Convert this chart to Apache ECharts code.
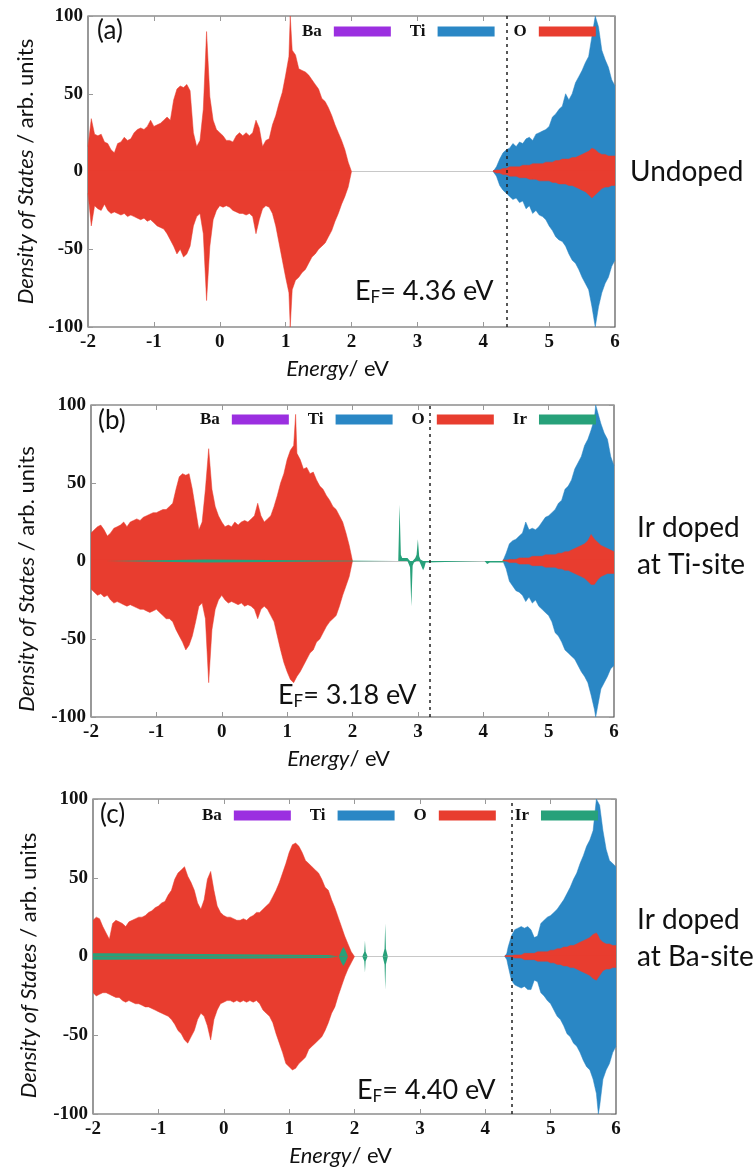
<!DOCTYPE html>
<html><head><meta charset="utf-8">
<script src="https://cdn.jsdelivr.net/npm/echarts@6/dist/echarts.min.js"></script>
<style>html,body{margin:0;padding:0;background:#fff}#c{width:755px;height:1170px}</style>
</head><body><div id="c"></div>
<script>
// ---------------- DATA ----------------
const xTicks = [-2, -1, 0, 1, 2, 3, 4, 5, 6];
const yTicks = [-100, -50, 0, 50, 100];
const panelLabels = ['(a)', '(b)', '(c)'];
const caseLabels = [['Undoped'], ['Ir doped', 'at Ti-site'], ['Ir doped', 'at Ba-site']];
const fermiEnergies = [4.36, 3.18, 4.40];
const fermiTexts = ['4.36 eV', '3.18 eV', '4.40 eV'];
const legendA = ['Ba', 'Ti', 'O'];
const legendBC = ['Ba', 'Ti', 'O', 'Ir'];

// Panel (a) undoped: valence band (O dominated)
const aValE = [-2.00,-1.95,-1.90,-1.85,-1.80,-1.75,-1.70,-1.65,-1.60,-1.55,-1.50,-1.45,-1.40,-1.35,-1.30,-1.25,-1.20,-1.15,-1.10,-1.05,-1.00,-0.95,-0.90,-0.85,-0.80,-0.75,-0.70,-0.65,-0.60,-0.55,-0.50,-0.45,-0.40,-0.35,-0.30,-0.25,-0.20,-0.15,-0.10,-0.05,0.00,0.05,0.10,0.15,0.20,0.25,0.30,0.35,0.40,0.45,0.50,0.55,0.60,0.65,0.70,0.75,0.80,0.85,0.90,0.95,1.00,1.05,1.07,1.10,1.15,1.20,1.25,1.30,1.35,1.40,1.45,1.50,1.55,1.60,1.65,1.70,1.75,1.80,1.85,1.90,1.95,2.00];
const aOValUp = [16,34,24,23,24,19,18,14,12,18,19,22,20,21,25,27,28,27,29,33,29,30,31,33,35,33,46,53,55,54,56,52,25,16,20,40,90,48,33,27,25,23,20,20,19,23,25,23,25,23,25,33,28,16,20,21,30,36,44,51,62,74,100,78,75,66,65,64,62,59,56,53,47,45,41,36,30,25,20,14,6,0];
const aOValDn = [-14,-35,-22,-24,-25,-21,-25,-27,-26,-27,-28,-27,-29,-28,-29,-30,-31,-30,-32,-31,-33,-35,-36,-37,-40,-44,-48,-53,-50,-55,-53,-48,-35,-29,-27,-40,-83,-48,-31,-25,-22,-23,-22,-23,-25,-26,-27,-27,-28,-27,-29,-40,-31,-24,-22,-23,-27,-35,-46,-57,-68,-78,-100,-76,-70,-68,-65,-63,-59,-55,-53,-50,-48,-46,-42,-38,-32,-27,-21,-16,-10,0];
// Panel (a) conduction band
const aCondE = [4.15,4.20,4.25,4.30,4.35,4.40,4.45,4.50,4.55,4.60,4.65,4.70,4.75,4.80,4.85,4.90,4.95,5.00,5.05,5.10,5.15,5.20,5.25,5.30,5.35,5.40,5.45,5.50,5.55,5.60,5.65,5.70,5.75,5.80,5.85,5.90,5.95,6.00];
const aTiUp = [0,3,8,12,14,15,18,16,19,18,21,22,20,24,25,26,27,29,35,37,40,42,50,46,50,57,61,65,70,74,87,100,93,78,72,67,59,55];
const aTiDn = [0,-3,-9,-12,-14,-16,-18,-17,-20,-19,-24,-22,-27,-25,-28,-29,-31,-35,-38,-42,-44,-45,-48,-53,-57,-59,-63,-68,-72,-76,-87,-100,-87,-78,-72,-68,-61,-57];
const aOCondUp = [0,1,1,2,2,3,3,3,3,4,4,4,5,5,5,5,6,6,6,7,7,8,8,8,9,9,10,11,12,13,15,14,12,11,11,10,10,10];
const aOCondDn = [0,-1,-1,-2,-2,-3,-3,-3,-4,-4,-4,-5,-5,-5,-6,-6,-6,-6,-7,-7,-8,-8,-8,-9,-9,-10,-11,-12,-13,-15,-17,-15,-13,-11,-10,-10,-9,-9];

// Panel (b) Ir at Ti-site
const bValE = [-2.00,-1.95,-1.90,-1.85,-1.80,-1.75,-1.70,-1.65,-1.60,-1.55,-1.50,-1.45,-1.40,-1.35,-1.30,-1.25,-1.20,-1.15,-1.10,-1.05,-1.00,-0.95,-0.90,-0.85,-0.80,-0.75,-0.70,-0.65,-0.60,-0.55,-0.50,-0.45,-0.40,-0.35,-0.30,-0.25,-0.20,-0.15,-0.10,-0.05,0.00,0.05,0.10,0.15,0.20,0.25,0.30,0.35,0.40,0.45,0.50,0.55,0.60,0.65,0.70,0.75,0.80,0.85,0.90,0.95,1.00,1.05,1.10,1.13,1.15,1.20,1.25,1.30,1.35,1.40,1.45,1.50,1.55,1.60,1.65,1.70,1.75,1.80,1.85,1.90,1.95,2.00];
const bOValUp = [18,20,22,23,20,16,18,21,22,23,25,22,25,26,27,26,28,29,30,31,31,32,33,33,35,37,46,54,56,55,56,46,33,20,25,46,72,46,35,29,25,22,23,22,25,23,25,26,25,27,29,37,29,25,27,29,35,42,50,56,65,71,74,94,69,65,59,60,56,57,52,48,46,42,39,35,33,29,25,18,10,0];
const bOValDn = [-18,-20,-22,-21,-23,-22,-25,-27,-26,-27,-28,-29,-28,-29,-30,-31,-31,-32,-33,-32,-31,-33,-35,-37,-37,-39,-44,-48,-52,-57,-54,-48,-39,-29,-27,-37,-78,-44,-31,-25,-22,-25,-27,-26,-27,-28,-27,-29,-28,-29,-31,-37,-31,-29,-31,-35,-39,-48,-57,-65,-71,-76,-78,-78,-74,-71,-67,-63,-59,-57,-52,-50,-46,-42,-39,-37,-35,-29,-22,-16,-10,0];
const bCondE = [4.30,4.35,4.40,4.45,4.50,4.55,4.60,4.65,4.70,4.75,4.80,4.85,4.90,4.95,5.00,5.05,5.10,5.15,5.20,5.25,5.30,5.35,5.40,5.45,5.50,5.55,5.60,5.65,5.70,5.72,5.75,5.80,5.85,5.90,5.95,6.00];
const bTiUp = [0,5,11,13,14,16,18,25,20,21,20,22,25,28,29,31,33,37,39,46,48,52,59,63,67,74,78,84,91,100,100,88,82,78,67,61];
const bTiDn = [0,-5,-13,-16,-19,-20,-22,-26,-23,-27,-25,-29,-31,-33,-35,-39,-46,-48,-52,-57,-59,-61,-63,-67,-71,-74,-78,-86,-95,-100,-100,-82,-78,-74,-69,-67];
const bOCondUp = [0,0,1,1,1,2,2,2,2,3,3,3,3,4,4,4,4,5,5,6,6,7,8,9,10,11,13,17,14,13,12,10,9,8,7,6];
const bOCondDn = [0,0,-1,-1,-1,-2,-2,-2,-2,-3,-3,-3,-3,-4,-4,-4,-4,-5,-5,-6,-6,-7,-8,-9,-10,-11,-13,-15,-15,-14,-12,-10,-9,-8,-8,-8];
const bIrE = [-1.76,-1.75,-0.25,-0.24,2.66,2.70,2.72,2.74,2.76,2.84,2.86,2.88,2.90,2.92,2.94,2.96,2.98,3.00,3.02,3.04,3.06,3.08,3.10,3.12,3.14,4.02,4.06,4.10,4.20,4.30,4.34];
const bIrUp = [0,1,1,0,0,0,36,4,2,2,1,0,0,0,1,2,4,14,3,1,0,0,0,0,0,0,0,0,0,0,0];
const bIrDn = [0,-1,-1,0,0,0,0,0,0,0,-2,-4,-29,-3,-1,0,0,0,0,-2,-3,-6,-4,-1,0,0,-2,-1,-1,-1,0];

// Panel (c) Ir at Ba-site
const cValE = [-2.00,-1.95,-1.90,-1.85,-1.80,-1.75,-1.70,-1.65,-1.60,-1.55,-1.50,-1.45,-1.40,-1.35,-1.30,-1.25,-1.20,-1.15,-1.10,-1.05,-1.00,-0.95,-0.90,-0.85,-0.80,-0.75,-0.70,-0.65,-0.60,-0.55,-0.50,-0.45,-0.40,-0.35,-0.30,-0.25,-0.20,-0.15,-0.10,-0.05,0.00,0.05,0.10,0.15,0.20,0.25,0.30,0.35,0.40,0.45,0.50,0.55,0.60,0.65,0.70,0.75,0.80,0.85,0.90,0.95,1.00,1.05,1.10,1.15,1.20,1.25,1.30,1.35,1.40,1.45,1.50,1.55,1.60,1.65,1.70,1.75,1.80,1.85,1.90,1.95,2.00];
const cOValUp = [23,25,24,19,15,11,21,23,22,21,19,22,23,24,25,25,26,28,29,31,32,34,35,39,42,49,53,55,57,51,47,42,34,30,36,49,54,42,32,28,26,25,25,24,23,23,24,23,25,26,28,28,30,32,34,38,42,47,53,59,66,71,72,70,66,61,59,57,55,53,49,44,42,36,31,25,19,13,8,3,0];
const cOValDn = [-23,-25,-24,-23,-23,-24,-25,-26,-26,-28,-29,-28,-29,-30,-30,-31,-32,-32,-33,-34,-35,-36,-37,-38,-40,-43,-47,-49,-53,-55,-51,-47,-40,-36,-38,-44,-53,-40,-34,-30,-29,-28,-28,-29,-28,-29,-28,-29,-28,-29,-28,-30,-34,-36,-38,-42,-49,-55,-61,-68,-70,-72,-71,-68,-66,-64,-59,-57,-55,-53,-51,-47,-42,-36,-32,-25,-19,-13,-8,-4,0];
const cCondE = [4.30,4.33,4.35,4.40,4.45,4.50,4.55,4.60,4.65,4.70,4.75,4.80,4.85,4.90,4.95,5.00,5.05,5.10,5.15,5.20,5.25,5.30,5.35,5.40,5.45,5.50,5.55,5.60,5.65,5.70,5.73,5.75,5.80,5.85,5.90,5.95,6.00];
const cTiUp = [0,2,6,13,17,18,19,18,19,17,12,13,21,23,25,26,28,30,33,36,40,44,49,53,59,64,70,74,80,100,100,96,80,68,61,59,57];
const cTiDn = [0,-2,-6,-15,-18,-19,-20,-19,-21,-21,-15,-16,-23,-25,-28,-30,-34,-38,-40,-44,-49,-51,-55,-57,-61,-66,-70,-72,-78,-87,-100,-95,-78,-72,-68,-61,-57];
const cOCondUp = [0,0,0,0,1,1,1,2,2,2,2,3,3,3,3,4,4,5,5,6,6,7,7,8,9,10,11,12,14,15,13,11,9,8,8,7,7];
const cOCondDn = [0,0,0,0,-1,-1,-1,-2,-2,-2,-2,-3,-3,-3,-3,-4,-4,-5,-5,-6,-6,-7,-7,-8,-9,-10,-11,-12,-14,-15,-14,-12,-9,-8,-8,-7,-7];
const cIrE = [-2.00,-1.75,-1.72,1.60,1.62,1.76,1.80,1.83,1.86,1.90,2.12,2.15,2.16,2.17,2.20,2.43,2.46,2.47,2.48,2.51];
const cIrUp = [2,2,1,1,0,0,4,6,4,0,0,3,10,3,0,0,5,21,5,0];
const cIrDn = [-2,-2,-1,-1,0,0,-4,-6,-4,0,0,-3,-10,-3,0,0,-5,-21,-5,0];

// ---------------- STYLE ----------------
const SANS = 'Lato, "Open Sans", "Noto Sans", sans-serif';
const SERIF = '"Liberation Serif", "DejaVu Serif", serif';
const COL = { Ba: '#9b2fe0', Ti: '#2a87c5', O: '#e83d2f', Ir: '#27a17a' };
const grids = [
  { left: 88, top: 16, width: 527, height: 311 },
  { left: 91, top: 405, width: 523, height: 312 },
  { left: 93, top: 799, width: 523, height: 315 }
];
const yNameGap = [50, 53, 53];
const yNamePad = [[0, 0, 0, 0], [0, 36, 0, 0], [0, 18, 0, 0]];
const legendPos = [{ left: 302, top: 23 }, { left: 200, top: 411 }, { left: 202, top: 807 }];

function pairs(E, V) { return E.map((e, i) => [e, V[i]]); }
function area(name, gi, E, V, z, extra, down) {
  const s = {
    type: 'line', name: name, xAxisIndex: gi * 2, yAxisIndex: gi * 2,
    data: pairs(E, V), symbol: 'none', showSymbol: false, silent: true, z: z,
    color: COL[name], itemStyle: { color: COL[name] },
    lineStyle: { width: name === 'Ir' ? 0 : 0.5, color: COL[name] },
    areaStyle: { color: COL[name], opacity: 1 }
  };
  if (down) s.areaStyle.origin = 0.8;   // overlap the two spin channels so no seam shows at zero
  return Object.assign(s, extra || {});
}
function zeroLine() {
  return { silent: true, z: 1, symbol: 'none', label: { show: false },
    lineStyle: { color: '#c8c8c8', width: 1, type: 'solid' }, data: [{ yAxis: 0 }] };
}
function efLine(gi) {
  return { silent: true, z: 6, symbol: 'none', label: { show: false },
    lineStyle: { color: '#222', width: 1.5, type: [3, 4] }, data: [{ xAxis: fermiEnergies[gi] }] };
}

const tickStyle = { inside: true, length: 5, lineStyle: { color: '#999' } };
const xAxes = [], yAxes = [];
grids.forEach((g, gi) => {
  xAxes.push({
    gridIndex: gi, type: 'value', min: xTicks[0], max: xTicks[xTicks.length - 1], interval: 1, position: 'bottom',
    axisLine: { show: false, onZero: false }, splitLine: { show: false }, axisTick: tickStyle,
    axisLabel: { margin: 6, fontFamily: SERIF, fontWeight: 'bold', fontSize: 19, color: '#111' },
    name: '{i|Energy}{n|/ eV}', nameLocation: 'middle', nameGap: 31,
    nameTextStyle: { padding: [0, 28, 0, 0], rich: {
      i: { fontFamily: SANS, fontSize: 22, fontStyle: 'italic', color: '#111' },
      n: { fontFamily: SANS, fontSize: 22, color: '#111' } } }
  });
  xAxes.push({
    gridIndex: gi, type: 'value', min: xTicks[0], max: xTicks[xTicks.length - 1], interval: 1, position: 'top',
    axisLine: { show: false, onZero: false }, splitLine: { show: false }, axisLabel: { show: false }, axisTick: tickStyle
  });
  yAxes.push({
    gridIndex: gi, type: 'value', min: yTicks[0], max: yTicks[yTicks.length - 1], interval: 50, position: 'left',
    axisLine: { show: false, onZero: false }, splitLine: { show: false }, axisTick: tickStyle,
    axisLabel: { margin: 5, fontFamily: SERIF, fontWeight: 'bold', fontSize: 19, color: '#111' },
    name: '{i|Density of States}{n| / arb. units}', nameLocation: 'middle', nameRotate: 90, nameGap: yNameGap[gi],
    nameTextStyle: { padding: yNamePad[gi], rich: {
      i: { fontFamily: SANS, fontSize: 22, fontStyle: 'italic', color: '#111' },
      n: { fontFamily: SANS, fontSize: 22, color: '#111' } } }
  });
  yAxes.push({
    gridIndex: gi, type: 'value', min: yTicks[0], max: yTicks[yTicks.length - 1], interval: 50, position: 'right',
    axisLine: { show: false, onZero: false }, splitLine: { show: false }, axisLabel: { show: false }, axisTick: tickStyle
  });
});

const series = [
  // legend-only Ba entry (no visible states in the window)
  area('Ba', 0, [], [], 1),
  // (a)
  area('Ti', 0, aCondE, aTiUp, 2, { markLine: zeroLine() }),
  area('Ti', 0, aCondE, aTiDn, 2, null, true),
  area('O', 0, aValE, aOValUp, 3),
  area('O', 0, aValE, aOValDn, 3, null, true),
  area('O', 0, aCondE, aOCondUp, 3),
  area('O', 0, aCondE, aOCondDn, 3, { markLine: efLine(0) }, true),
  // (b)
  area('Ti', 1, bCondE, bTiUp, 2, { markLine: zeroLine() }),
  area('Ti', 1, bCondE, bTiDn, 2, null, true),
  area('O', 1, bValE, bOValUp, 3),
  area('O', 1, bValE, bOValDn, 3, null, true),
  area('O', 1, bCondE, bOCondUp, 3),
  area('O', 1, bCondE, bOCondDn, 3, null, true),
  area('Ir', 1, bIrE, bIrUp, 4),
  area('Ir', 1, bIrE, bIrDn, 4, { markLine: efLine(1) }),
  // (c)
  area('Ti', 2, cCondE, cTiUp, 2, { markLine: zeroLine() }),
  area('Ti', 2, cCondE, cTiDn, 2, null, true),
  area('O', 2, cValE, cOValUp, 3),
  area('O', 2, cValE, cOValDn, 3, null, true),
  area('O', 2, cCondE, cOCondUp, 3),
  area('O', 2, cCondE, cOCondDn, 3, null, true),
  area('Ir', 2, cIrE, cIrUp, 4),
  area('Ir', 2, cIrE, cIrDn, 4, { markLine: efLine(2) })
];

const legends = [legendA, legendBC, legendBC].map((names, gi) => ({
  data: names.map(n => ({ name: n, itemStyle: { color: COL[n] } })),
  left: legendPos[gi].left, top: legendPos[gi].top, orient: 'horizontal',
  align: 'right', icon: 'rect', itemWidth: 57, itemHeight: 10, itemGap: 19, padding: 0,
  selectedMode: false,
  textStyle: { fontFamily: SERIF, fontWeight: 'bold', fontSize: 17, color: '#111', padding: [0, 7, 0, 0] }
}));

// annotations
const panelPos = [[97, 33], [98, 423], [100, 817]];
const efPos = [[355, 291], [278, 695], [357, 1090]];
const casePos = [[630, [172]], [637, [528, 565]], [637, [920, 957]]];
const graphic = [];
panelLabels.forEach((t, i) => graphic.push({ type: 'text', left: panelPos[i][0], top: panelPos[i][1] - 15,
  style: { text: t, font: '26px ' + SANS, fill: '#111' }, silent: true }));
fermiTexts.forEach((t, i) => graphic.push({ type: 'text', x: efPos[i][0], y: efPos[i][1],
  style: { text: '{e|E}{s|F}{e|= ' + t + '}', verticalAlign: 'middle', rich: {
    e: { fontFamily: SANS, fontSize: 27, lineHeight: 30, fill: '#111', verticalAlign: 'middle' },
    s: { fontFamily: SANS, fontSize: 17, fill: '#111', verticalAlign: 'bottom' } } }, silent: true, z: 20 }));
caseLabels.forEach((lines, i) => lines.forEach((t, j) => graphic.push({ type: 'text', x: casePos[i][0], y: casePos[i][1][j],
  style: { text: t, fontFamily: SANS, fontSize: 28, fill: '#111', verticalAlign: 'middle' }, silent: true })));

const chart = echarts.init(document.getElementById('c'));
chart.setOption({
  animation: false,
  backgroundColor: '#fff',
  grid: grids.map(g => Object.assign({ show: true, borderColor: '#555', borderWidth: 1.2, backgroundColor: 'transparent', containLabel: false }, g)),
  xAxis: xAxes, yAxis: yAxes, legend: legends, series: series, graphic: graphic
});
</script></body></html>
